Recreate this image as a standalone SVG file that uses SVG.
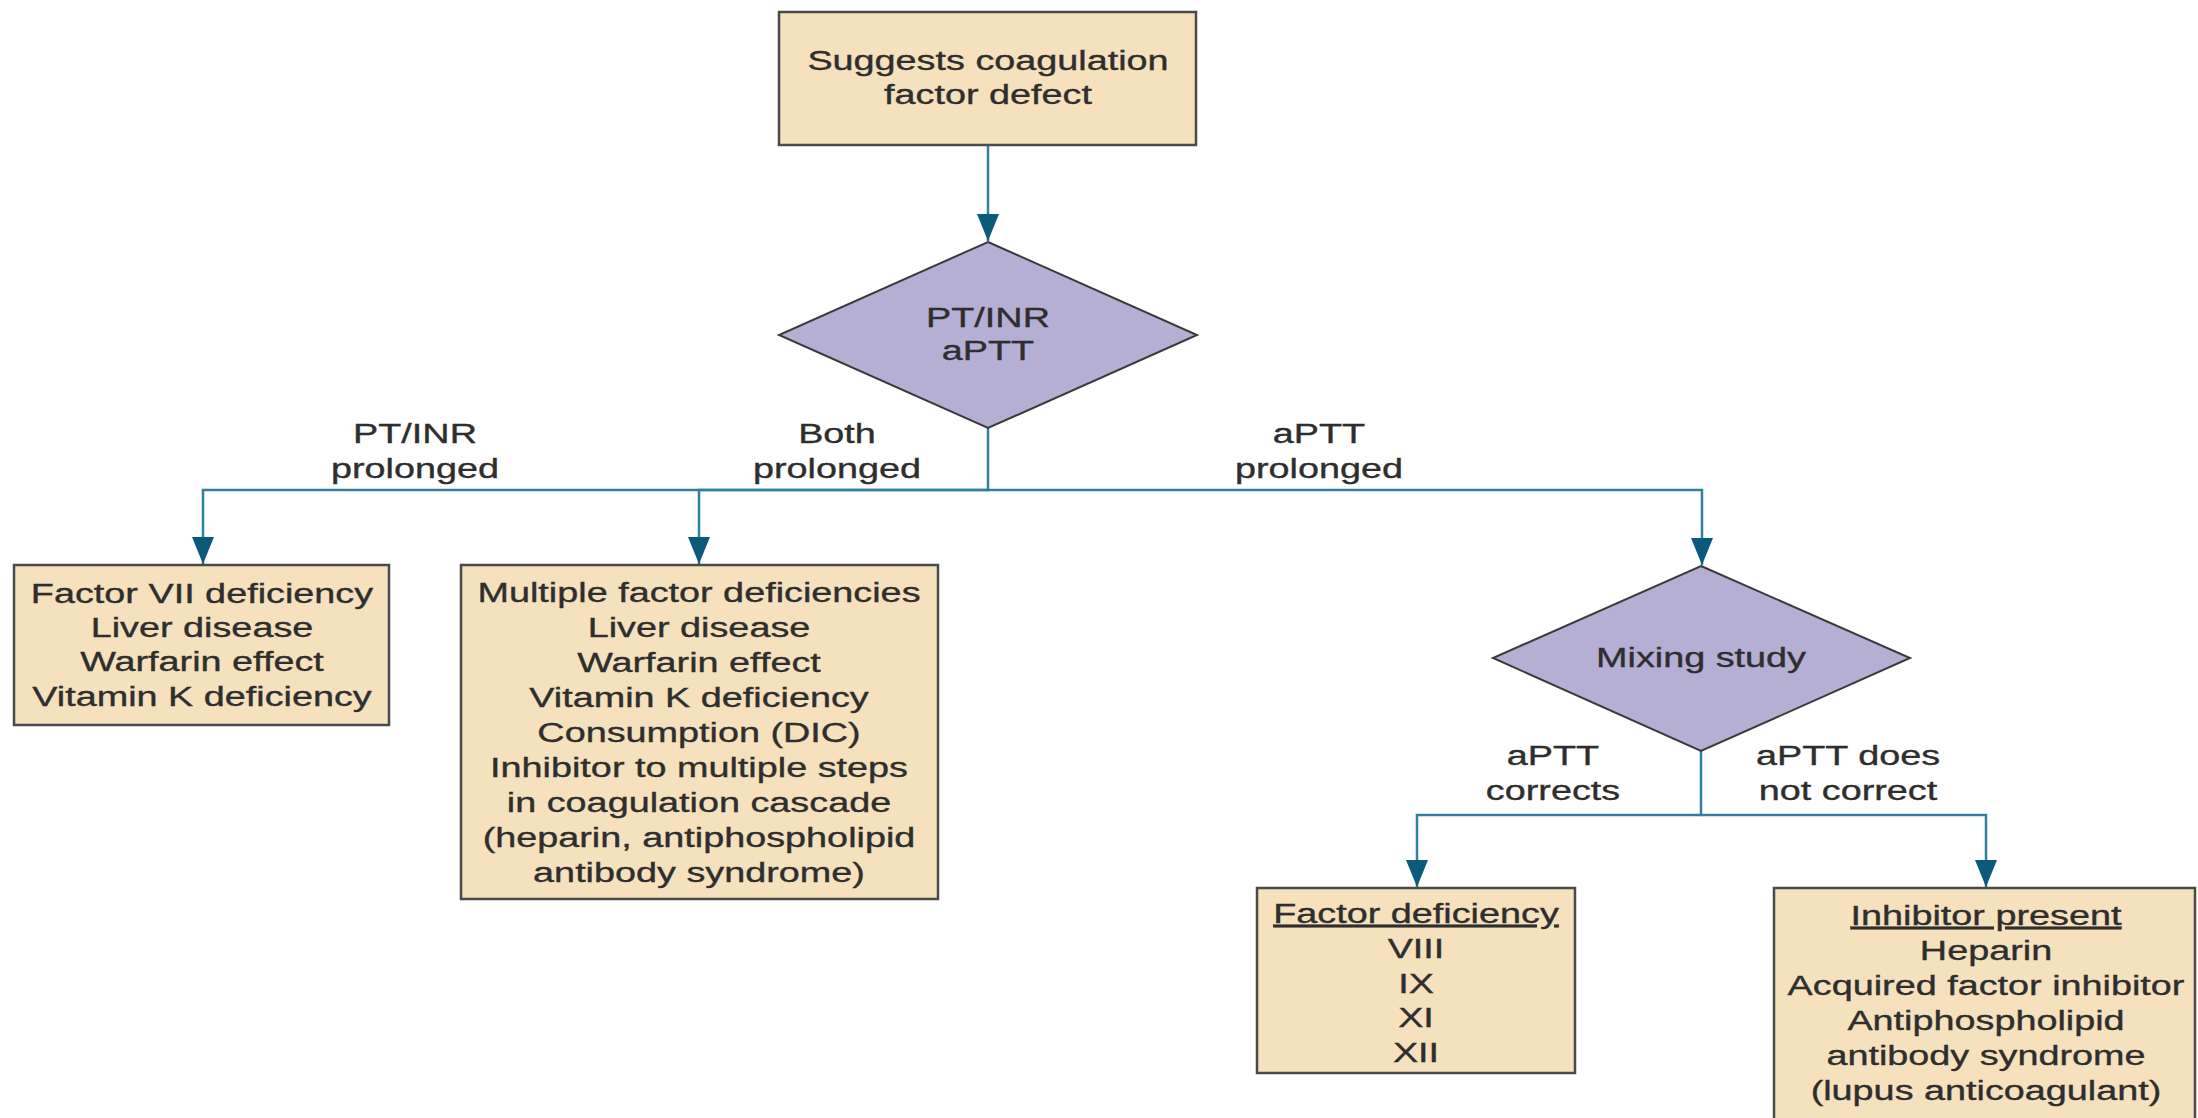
<svg xmlns="http://www.w3.org/2000/svg" width="2198" height="1118" viewBox="0 0 2198 1118">
<style>
.box{fill:#f5e1bd;stroke:#4a4a4a;stroke-width:2.5}
.dia{fill:#b6afd4;stroke:#3a3a3a;stroke-width:2}
.t{font-family:"Liberation Sans",Arial,sans-serif;font-size:27px;fill:#2e2e2e;stroke:#2e2e2e;stroke-width:0.35;text-anchor:middle}
.c{fill:none;stroke:#347f9e;stroke-width:2.5}
</style>
<defs>
<marker id="ah" markerUnits="userSpaceOnUse" markerWidth="30" markerHeight="24" refX="27" refY="11" orient="auto">
<path d="M0,0 L27,11 L0,22 Z" fill="#0c5a7b"/>
</marker>
</defs>
<rect width="2198" height="1118" fill="#fff"/>
<g id="connectors">
<path class="c" d="M988,145 V241" marker-end="url(#ah)"/>
<path class="c" d="M988,428 V490 H203 V564" marker-end="url(#ah)"/>
<path class="c" d="M988,490 H699 V564" marker-end="url(#ah)"/>
<path class="c" d="M988,490 H1702 V565" marker-end="url(#ah)"/>
<path class="c" d="M1701,751 V815 H1417 V887" marker-end="url(#ah)"/>
<path class="c" d="M1701,815 H1986 V887" marker-end="url(#ah)"/>
</g>
<g id="labels">
<text class="t" transform="translate(415 0) scale(1.4 1)"><tspan x="0" y="443">PT/INR</tspan><tspan x="0" y="478">prolonged</tspan></text>
<text class="t" transform="translate(837 0) scale(1.4 1)"><tspan x="0" y="443">Both</tspan><tspan x="0" y="478">prolonged</tspan></text>
<text class="t" transform="translate(1319 0) scale(1.4 1)"><tspan x="0" y="443">aPTT</tspan><tspan x="0" y="478">prolonged</tspan></text>
<text class="t" transform="translate(1553 0) scale(1.4 1)"><tspan x="0" y="765">aPTT</tspan><tspan x="0" y="800">corrects</tspan></text>
<text class="t" transform="translate(1848 0) scale(1.4 1)"><tspan x="0" y="765">aPTT does</tspan><tspan x="0" y="800">not correct</tspan></text>
</g>
<g id="start">
<rect class="box" x="779" y="12" width="417" height="133"/>
<text class="t" transform="translate(988 0) scale(1.4 1)"><tspan x="0" y="70">Suggests coagulation</tspan><tspan x="0" y="104">factor defect</tspan></text>
</g>
<g id="tests">
<polygon class="dia" points="988,242 1197,335 988,428 779,335"/>
<text class="t" transform="translate(988 0) scale(1.4 1)"><tspan x="0" y="327">PT/INR</tspan><tspan x="0" y="360">aPTT</tspan></text>
</g>
<g id="pt-prolonged">
<rect class="box" x="14" y="565" width="375" height="160"/>
<text class="t" transform="translate(202 0) scale(1.4 1)"><tspan x="0" y="603">Factor VII deficiency</tspan><tspan x="0" y="637">Liver disease</tspan><tspan x="0" y="671">Warfarin effect</tspan><tspan x="0" y="706">Vitamin K deficiency</tspan></text>
</g>
<g id="both-prolonged">
<rect class="box" x="461" y="565" width="477" height="334"/>
<text class="t" transform="translate(699 0) scale(1.4 1)"><tspan x="0" y="602">Multiple factor deficiencies</tspan><tspan x="0" y="637">Liver disease</tspan><tspan x="0" y="672">Warfarin effect</tspan><tspan x="0" y="707">Vitamin K deficiency</tspan><tspan x="0" y="742">Consumption (DIC)</tspan><tspan x="0" y="777">Inhibitor to multiple steps</tspan><tspan x="0" y="812">in coagulation cascade</tspan><tspan x="0" y="847">(heparin, antiphospholipid</tspan><tspan x="0" y="882">antibody syndrome)</tspan></text>
</g>
<g id="mixing">
<polygon class="dia" points="1701,566 1910,658 1701,751 1493,658"/>
<text class="t" transform="translate(1701 0) scale(1.4 1)"><tspan x="0" y="667">Mixing study</tspan></text>
</g>
<g id="factor-deficiency">
<rect class="box" x="1257" y="888" width="318" height="185"/>
<text class="t" transform="translate(1416 0) scale(1.4 1)"><tspan x="0" y="923" text-decoration="underline">Factor deficiency</tspan><tspan x="0" y="958">VIII</tspan><tspan x="0" y="993">IX</tspan><tspan x="0" y="1027">XI</tspan><tspan x="0" y="1062">XII</tspan></text>
</g>
<g id="inhibitor">
<rect class="box" x="1774" y="888" width="421" height="245"/>
<text class="t" transform="translate(1986 0) scale(1.4 1)"><tspan x="0" y="925" text-decoration="underline">Inhibitor present</tspan><tspan x="0" y="960">Heparin</tspan><tspan x="0" y="995">Acquired factor inhibitor</tspan><tspan x="0" y="1030">Antiphospholipid</tspan><tspan x="0" y="1065">antibody syndrome</tspan><tspan x="0" y="1100">(lupus anticoagulant)</tspan></text>
</g>
</svg>
